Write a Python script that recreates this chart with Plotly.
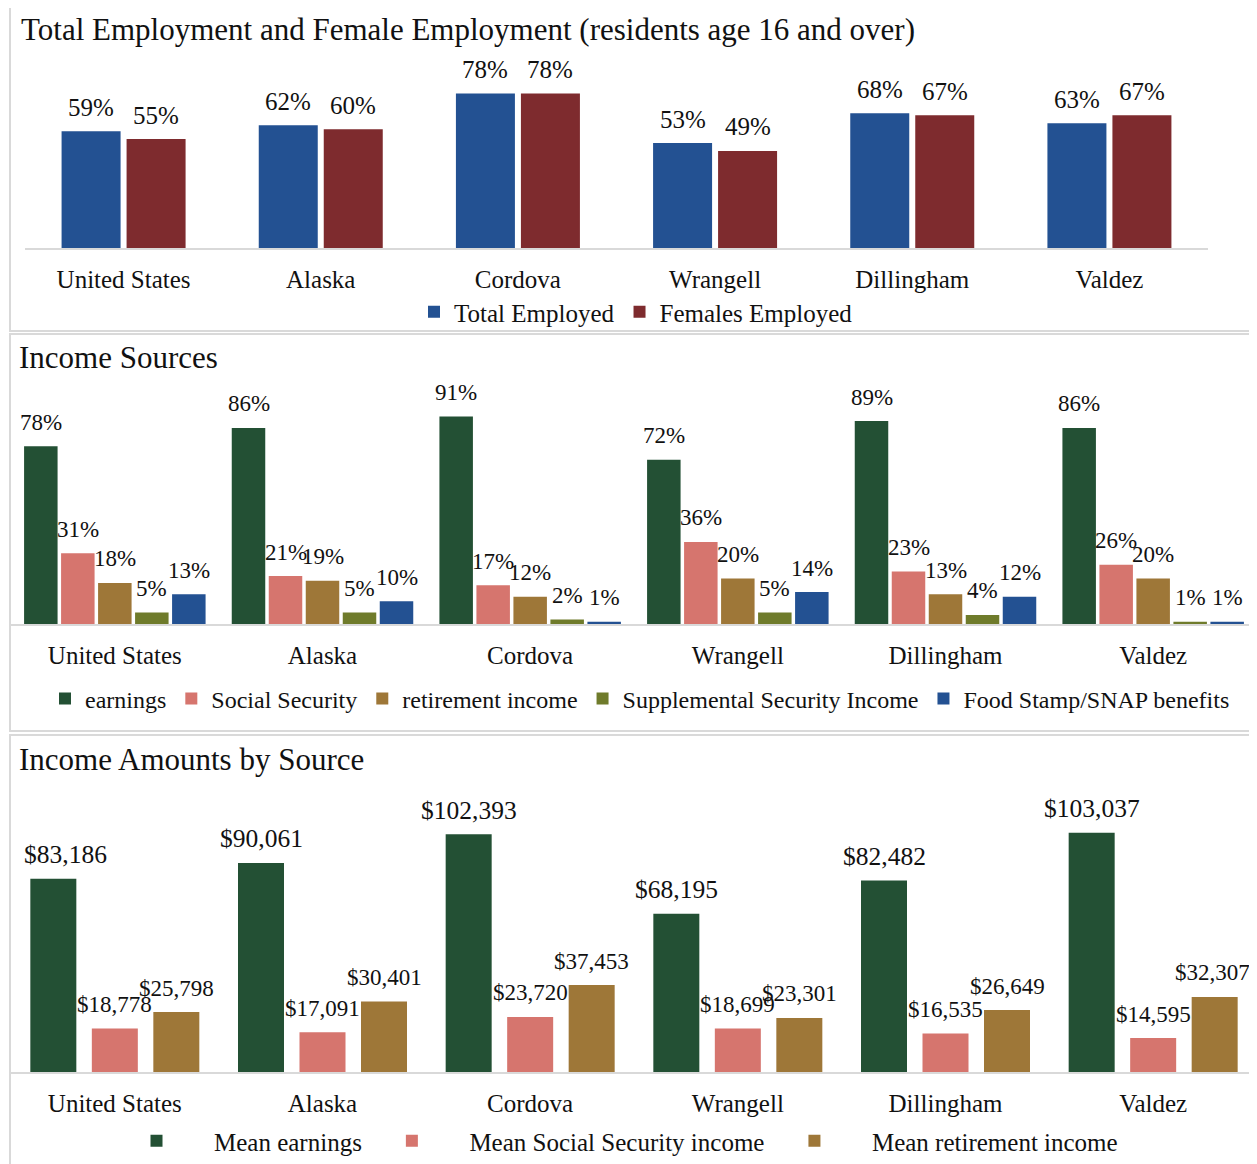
import plotly.graph_objects as go

# ---------------- data ----------------
categories = ["United States", "Alaska", "Cordova", "Wrangell", "Dillingham", "Valdez"]

total_employed = [59, 62, 78, 53, 68, 63]
females_employed = [55, 60, 78, 49, 67, 67]

earnings_pct = [78, 86, 91, 72, 89, 86]
social_security_pct = [31, 21, 17, 36, 23, 26]
retirement_pct = [18, 19, 12, 20, 13, 20]
ssi_pct = [5, 5, 2, 5, 4, 1]
snap_pct = [13, 10, 1, 14, 12, 1]

mean_earnings = [83186, 90061, 102393, 68195, 82482, 103037]
mean_social_security = [18778, 17091, 23720, 18699, 16535, 14595]
mean_retirement = [25798, 30401, 37453, 23301, 26649, 32307]

# ---------------- style ----------------
PAGE_OFF = 8                      # default body margin of the html page
FIG_W, FIG_H = 1257 - PAGE_OFF, 1164 - PAGE_OFF
FONT = "Liberation Serif"
INK = "#111111"
AXIS_GRAY = "#d9d9d9"
NB = "\u00a0"

BLUE = "#235192"
MAROON = "#7e2b2e"
GREEN = "#235034"
SALMON = "#d6756e"
BROWN = "#9e7738"
OLIVE = "#6f7b2b"

LABEL_RAISE = 24


def fx(p):
    return (p - PAGE_OFF) / FIG_W


def fy(p):
    return 1 - (p - PAGE_OFF) / FIG_H


def text_width(s, fs):
    return fs * sum(0.25 if ch in ",." else 0.833 if ch == "%" else 0.5 for ch in s)


fig = go.Figure()


def add_group(xaxis, yaxis, names, series, colors, dom_left, cat_px, bar_px, pitch_px,
              legend, fmt, sizes, label_min=None, label_max=None):
    n = len(series)
    for k, (name, vals, col, fs) in enumerate(zip(names, series, colors, sizes)):
        shift_px = (k - (n - 1) / 2) * pitch_px
        fig.add_trace(go.Bar(
            x=categories, y=vals, name=name,
            marker=dict(color=col, line=dict(width=0)),
            width=bar_px / cat_px, offset=(shift_px - bar_px / 2) / cat_px,
            xaxis=xaxis, yaxis=yaxis, legend=legend,
            hoverinfo="skip",
        ))
        for i, (c, v) in enumerate(zip(categories, vals)):
            txt = fmt(v)
            # keep labels inside the chart area, as the original does
            centre = dom_left + (i + 0.5) * cat_px + shift_px
            half = text_width(txt, fs) / 2
            nudge = 0
            if label_min is not None and centre - half < label_min:
                nudge = label_min - (centre - half)
            if label_max is not None and centre + half > label_max:
                nudge = label_max - (centre + half)
            fig.add_annotation(
                x=c, y=v, xref=xaxis, yref=yaxis, text=txt, showarrow=False,
                xanchor="center", yanchor="middle", xshift=shift_px + nudge,
                yshift=LABEL_RAISE,
                font=dict(family=FONT, size=fs, color=INK))


def pct(v):
    return f"{v}%"


def usd(v):
    return f"${v:,}"


# Panel 1
add_group("x", "y", ["Total Employed", "Females Employed"],
          [total_employed, females_employed], [BLUE, MAROON],
          dom_left=25, cat_px=(1208 - 25) / 6, bar_px=59, pitch_px=65, legend="legend",
          fmt=pct, sizes=[25, 25])

# Panel 2
add_group("x2", "y2",
          ["earnings", "Social Security", "retirement income",
           "Supplemental Security Income", "Food Stamp/SNAP benefits"],
          [earnings_pct, social_security_pct, retirement_pct, ssi_pct, snap_pct],
          [GREEN, SALMON, BROWN, OLIVE, BLUE],
          dom_left=11, cat_px=(1257 - 11) / 6, bar_px=33.5, pitch_px=37, legend="legend2",
          fmt=pct, sizes=[23, 23, 23, 23, 23])

# Panel 3
add_group("x3", "y3",
          [NB * 6 + "Mean earnings" + NB * 4,
           NB * 6 + "Mean Social Security income" + NB * 4,
           NB * 6 + "Mean retirement income"],
          [mean_earnings, mean_social_security, mean_retirement],
          [GREEN, SALMON, BROWN],
          dom_left=11, cat_px=(1257 - 11) / 6, bar_px=46, pitch_px=61.5, legend="legend3",
          fmt=usd, sizes=[25.5, 23, 23], label_min=24, label_max=1250)

xcommon = dict(type="category", showline=True, linecolor=AXIS_GRAY, linewidth=2,
               ticks="", showgrid=False, zeroline=False, range=[-0.5, 5.5],
               tickfont=dict(family=FONT, size=25, color=INK), ticklabelstandoff=8,
               fixedrange=True)
ycommon = dict(showgrid=False, zeroline=False, showticklabels=False, showline=False,
               fixedrange=True)

legend_common = dict(orientation="h", xanchor="center", yanchor="middle",
                     bgcolor="rgba(0,0,0,0)", traceorder="normal")

fig.update_layout(
    width=FIG_W, height=FIG_H, margin=dict(l=0, r=0, t=0, b=0),
    paper_bgcolor="white", plot_bgcolor="white",
    barmode="overlay",
    font=dict(family=FONT, color=INK),
    xaxis=dict(domain=[fx(25), fx(1208)], anchor="y", **xcommon),
    yaxis=dict(domain=[fy(248), fy(60)], range=[0, 188 / 1.98], anchor="x", **ycommon),
    xaxis2=dict(domain=[fx(11), 1.0], anchor="y2", **xcommon),
    yaxis2=dict(domain=[fy(624), fy(392)], range=[0, 232 / 2.28], anchor="x2", **ycommon),
    xaxis3=dict(domain=[fx(11), 1.0], anchor="y3", **xcommon),
    yaxis3=dict(domain=[fy(1072), fy(792)], range=[0, 280 / 2.322 * 1000], anchor="x3", **ycommon),
    legend=dict(x=fx(636), y=fy(312), font=dict(family=FONT, size=25, color=INK), **legend_common),
    legend2=dict(x=fx(640), y=fy(699), font=dict(family=FONT, size=24, color=INK), **legend_common),
    legend3=dict(x=fx(630), y=0, yanchor="bottom", xanchor="center", orientation="h",
                 bgcolor="rgba(0,0,0,0)", traceorder="normal",
                 font=dict(family=FONT, size=25, color=INK)),
    showlegend=True,
)

# panel frames
for top, bottom in [(6, 331), (334, 731), (735, 1175)]:
    fig.add_shape(type="rect", xref="paper", yref="paper",
                  x0=fx(10), x1=1.02, y0=fy(bottom), y1=fy(top),
                  line=dict(color=AXIS_GRAY, width=2), fillcolor="rgba(0,0,0,0)",
                  layer="below")

# panel titles
for text, x, y in [("Total Employment and Female Employment (residents age 16 and over)", 19, 30),
                   ("Income Sources", 17, 357),
                   ("Income Amounts by Source", 17, 759)]:
    fig.add_annotation(text=text, xref="paper", yref="paper", x=fx(x), y=fy(y),
                       xanchor="left", yanchor="middle", showarrow=False,
                       font=dict(family=FONT, size=31, color=INK))

fig.write_html("out.html")
